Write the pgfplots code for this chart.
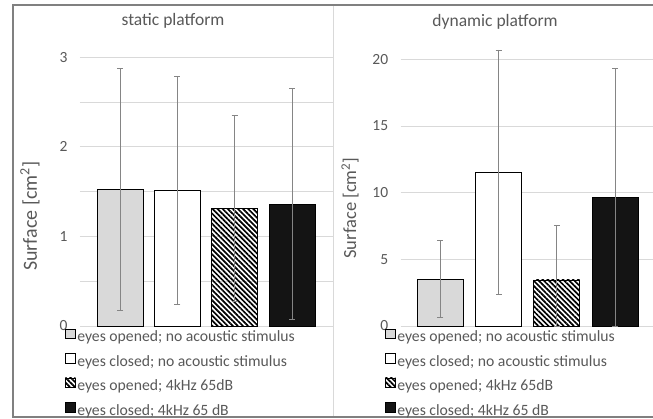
\documentclass[border=0pt]{standalone}
\usepackage{fontspec}
\setmainfont{Carlito}
\usepackage{pgfplots}
\pgfplotsset{compat=1.18}
\usetikzlibrary{patterns.meta}
\definecolor{txt}{HTML}{595959}
\definecolor{gridc}{HTML}{D9D9D9}
\definecolor{barA}{HTML}{D9D9D9}
\definecolor{barD}{HTML}{141414}
\definecolor{errc}{HTML}{858585}
\definecolor{framec}{HTML}{808080}
\pgfplotsset{
 panel/.style={
  scale only axis, ybar, bar width=46pt, bar shift=0pt, clip=false,
  axis line style={draw=none}, ymin=0, xtick=\empty,
  ymajorgrids,
  major grid style={gridc, line width=0.8pt},
  minor grid style={gridc, line width=0.8pt},
  major tick length=0pt, minor tick length=0pt,
  tick label style={font=\fontsize{15.5}{18}\selectfont, text=txt},
  yticklabel style={xshift=-9pt},
  /pgf/number format/assume math mode=true,
  legend cell align=left,
  legend style={draw=none, fill=none, inner sep=0pt, outer sep=0pt, anchor=north west,
    font=\fontsize{15.7}{18}\selectfont, text=txt, row sep=7.8pt, column sep=1.5pt,
    nodes={inner sep=0pt, text height=11pt, text depth=3.5pt}},
  legend image code/.code={\draw[##1] (0pt,-0.5pt) rectangle (10pt,9pt);},
  error bars/y dir=both, error bars/y explicit,
  error bars/error bar style={errc, line width=0.9pt},
  error bars/error mark options={errc, rotate=90, mark size=3pt, line width=0.9pt},
 },
 b1/.style={fill=barA, draw=black, line width=0.8pt},
 b2/.style={fill=white, draw=black, line width=0.8pt},
 b3/.style={draw=black, line width=0.8pt, pattern={Lines[angle=-45,distance=3.6pt,line width=1.7pt]}, pattern color=black},
 b4/.style={fill=barD, draw=black, line width=0.8pt},
}
\begin{document}
\begin{tikzpicture}
\useasboundingbox (0,0) rectangle (653pt,419pt);
\fill[white] (0,0) rectangle (653pt,419pt);
\draw[gridc, line width=0.8pt] (333pt,2pt) -- (333pt,414pt);
\draw[framec, line width=1.5pt] (665pt,414pt) -- (13pt,414pt) -- (13pt,2pt) -- (665pt,2pt);
\begin{axis}[panel, at={(80pt,93pt)}, anchor=south west, width=253pt, height=268.7pt,
  xmin=-0.698, xmax=3.715, ymax=3, ytick={0,1,2,3}, minor ytick={0.5,1.5,2.5}, yminorgrids,
  title={static platform},
  title style={font=\fontsize{17.5}{20}\selectfont, text=txt, at={(axis description cs:0.3676,1.0942)}, anchor=base},
  ylabel={Surface [cm\textsuperscript{2}]},
  ylabel style={font=\fontsize{20}{22}\selectfont, text=txt, at={(axis description cs:-0.1976,0.409)}, anchor=center},
  legend style={at={(axis description cs:-0.0593,-0.0100)}}]
\addplot[b1] coordinates {(0,1.527) +- (0,1.35)};
\addplot[b2] coordinates {(1,1.516) +- (0,1.27)};
\addplot[b3] coordinates {(2,1.31) +- (0,1.04)};
\addplot[b4] coordinates {(3,1.36) +- (0,1.29)};
\legend{eyes opened; no acoustic stimulus, eyes closed; no acoustic stimulus, eyes opened; 4kHz 65dB, eyes closed; 4kHz 65 dB}
\end{axis}
\begin{axis}[panel, at={(400.7pt,93pt)}, anchor=south west, width=252.3pt, height=266.7pt,
  xmin=-0.684, xmax=3.653, ymax=20, ytick={0,5,10,15,20},
  title={dynamic platform},
  title style={font=\fontsize{17.5}{20}\selectfont, text=txt, at={(axis description cs:0.374,1.0995)}, anchor=base},
  ylabel={Surface [cm\textsuperscript{2}]},
  ylabel style={font=\fontsize{18.5}{21}\selectfont, text=txt, at={(axis description cs:-0.201,0.442)}, anchor=center},
  legend style={at={(axis description cs:-0.0622,-0.0101)}}]
\addplot[b1] coordinates {(0,3.53) +- (0,2.9)};
\addplot[b2] coordinates {(1,11.53) +- (0,9.17)};
\addplot[b3] coordinates {(2,3.45) += (0,4.1) -= (0,3.45)};
\addplot[b4] coordinates {(3,9.63) += (0,9.7) -= (0,9.63)};
\legend{eyes opened; no acoustic stimulus, eyes closed; no acoustic stimulus, eyes opened; 4kHz 65dB, eyes closed; 4kHz 65 dB}
\end{axis}
\end{tikzpicture}
\end{document}
